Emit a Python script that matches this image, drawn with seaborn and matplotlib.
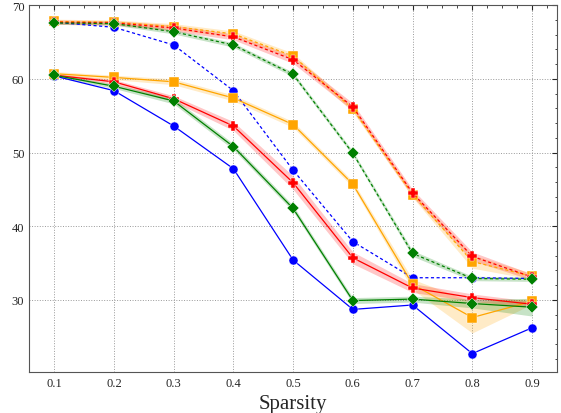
import matplotlib
matplotlib.use("Agg")
import matplotlib.pyplot as plt
from matplotlib.ticker import AutoMinorLocator, MultipleLocator
import seaborn as sns
import numpy as np

sns.set_style("white")
plt.rcParams['font.family'] = ['Liberation Serif', 'DejaVu Serif']

sparsity = [0.1, 0.2, 0.3, 0.4, 0.5, 0.6, 0.7, 0.8, 0.9]

# lower (solid) group
blue_lo = [60.4, 58.4, 53.6, 47.8, 35.4, 28.7, 29.3, 22.7, 26.2]
red_lo = [60.5, 59.6, 57.3, 53.6, 45.9, 35.7, 31.6, 30.3, 29.4]
orange_lo = [60.7, 60.2, 59.6, 57.4, 53.8, 45.7, 32.1, 27.6, 29.8]
green_lo = [60.5, 59.0, 57.0, 50.8, 42.4, 29.9, 30.1, 29.5, 29.0]

# upper (dashed) group
blue_hi = [67.7, 67.0, 64.6, 58.4, 47.6, 37.9, 33.0, 33.0, 32.9]
red_hi = [67.7, 67.6, 66.9, 65.7, 62.6, 56.2, 44.5, 35.9, 33.1]
orange_hi = [67.8, 67.7, 67.1, 66.1, 63.1, 55.9, 44.3, 35.2, 33.2]
green_hi = [67.6, 67.5, 66.4, 64.6, 60.6, 49.9, 36.3, 32.9, 32.8]

# half-width of the shaded bands
red_lo_err = [0.2, 0.3, 0.4, 0.6, 0.9, 0.8, 0.6, 0.5, 0.4]
orange_lo_err = [0.3, 0.3, 0.4, 0.4, 0.4, 0.4, 0.7, 2.1, 0.4]
green_lo_err = [0.2, 0.3, 0.4, 0.4, 0.4, 0.4, 0.4, 0.6, 1.2]
red_hi_err = [0.3, 0.3, 0.4, 0.4, 0.5, 0.5, 0.5, 0.6, 0.4]
orange_hi_err = [0.3, 0.3, 0.4, 0.4, 0.4, 0.4, 0.4, 0.9, 0.4]
green_hi_err = [0.2, 0.2, 0.3, 0.3, 0.3, 0.3, 0.4, 0.3, 0.3]

fig, ax = plt.subplots(figsize=(5.61, 4.14), dpi=100)

dash = (0, (2.5, 2))
series = [
    (blue_lo, None, 'blue', 'o', '-', 6.5),
    (blue_hi, None, 'blue', 'o', dash, 6.5),
    (orange_lo, orange_lo_err, 'orange', 's', '-', 6.5),
    (orange_hi, orange_hi_err, 'orange', 's', dash, 6.5),
    (red_lo, red_lo_err, 'red', 'P', '-', 7.5),
    (red_hi, red_hi_err, 'red', 'P', dash, 7.5),
    (green_lo, green_lo_err, 'green', 'D', '-', 6.5),
    (green_hi, green_hi_err, 'green', 'D', dash, 6.5),
]

for vals, err, col, mk, ls, ms in series:
    if err is not None:
        v = np.array(vals)
        e = np.array(err)
        ax.fill_between(sparsity, v - e, v + e, color=col, alpha=0.22, lw=0)
    sns.lineplot(x=sparsity, y=vals, ax=ax, color=col, marker=mk, linestyle=ls,
                 lw=0.9, markersize=ms, markeredgecolor='white', markeredgewidth=0.3)

ax.set_xlim(0.058, 0.942)
ax.set_ylim(20.2, 70)
ax.xaxis.set_major_locator(MultipleLocator(0.1))
ax.yaxis.set_major_locator(MultipleLocator(10))
ax.xaxis.set_minor_locator(AutoMinorLocator(4))
ax.yaxis.set_minor_locator(AutoMinorLocator(5))
ax.tick_params(which='both', direction='in', top=True, right=True, labelsize=9)
ax.tick_params(which='major', length=3.5)
ax.tick_params(which='minor', length=1.8)
ax.grid(True, which='major', linestyle=':', color='#999999', lw=0.7)
for s in ax.spines.values():
    s.set_color('#555555')

ax.set_xlabel('Sparsity', fontsize=15)
ax.set_ylabel('')

fig.subplots_adjust(left=0.052, right=0.993, top=0.985, bottom=0.099)
fig.savefig('out.png', dpi=100)
